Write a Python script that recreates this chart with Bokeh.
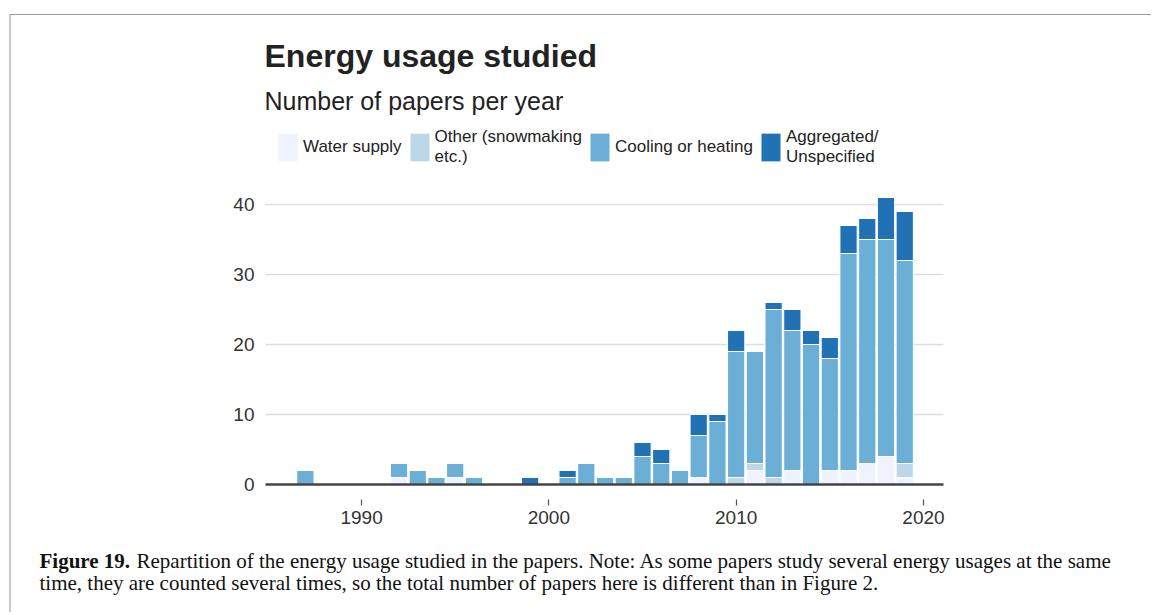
from bokeh.plotting import figure
from bokeh.models import (Range1d, Label, Legend, LegendItem, FixedTicker, ColumnDataSource,
                          LinearAxis, Grid)
from bokeh.embed import file_html
from bokeh.resources import INLINE

# ---- data ----
years = [1987, 1992, 1993, 1994, 1995, 1996, 1999, 2001, 2002, 2003, 2004, 2005, 2006,
         2007, 2008, 2009, 2010, 2011, 2012, 2013, 2014, 2015, 2016, 2017, 2018, 2019]
water_supply = [0, 1, 0, 0, 1, 0, 0, 0, 0, 0, 0, 0, 0, 0, 1, 0, 0, 2, 0, 2, 0, 2, 2, 3, 4, 1]
other = [0, 0, 0, 0, 0, 0, 0, 0, 0, 0, 0, 0, 0, 0, 0, 0, 1, 1, 1, 0, 0, 0, 0, 0, 0, 2]
cooling_heating = [2, 2, 2, 1, 2, 1, 0, 1, 3, 1, 1, 4, 3, 2, 6, 9, 18, 16, 24, 20, 20, 16, 31, 32, 31, 29]
aggregated = [0, 0, 0, 0, 0, 0, 1, 1, 0, 0, 0, 2, 2, 0, 3, 1, 3, 0, 1, 3, 2, 3, 4, 3, 6, 7]

series_keys = ["water", "other", "cooling", "agg"]
series_labels = ["Water supply", "Other (snowmaking\netc.)", "Cooling or heating", "Aggregated/\nUnspecified"]
series_colors = ["#eff3ff", "#bdd7e7", "#6baed6", "#2171b5"]
x_ticks = [1990, 2000, 2010, 2020]
y_ticks = [0, 10, 20, 30, 40]

title_text = "Energy usage studied"
subtitle_text = "Number of papers per year"
caption_bold = "Figure 19."
caption_line1 = ("Repartition of the energy usage studied in the papers. Note: As some papers study "
                 "several energy usages at the same")
caption_line2 = ("time, they are counted several times, so the total number of papers here is "
                 "different than in Figure 2.")

source = ColumnDataSource(dict(year=years, water=water_supply, other=other,
                               cooling=cooling_heating, agg=aggregated))

FONT = "Liberation Sans"
SERIF = "Liberation Serif"

# ---- layout constants (pixels) ----
W, H = 1142, 598              # canvas size
PLOT_L, PLOT_W = 254, 678     # chart area left offset / width inside canvas
PLOT_B, PLOT_H = 129, 294     # chart area bottom offset / height (0..42)
X_LO, X_HI = 1984.87, 2021.07
Y_LO, Y_HI = 0, 42
px_x = PLOT_W / (X_HI - X_LO)
px_y = PLOT_H / (Y_HI - Y_LO)

p = figure(width=W, height=H,
           x_range=Range1d(X_LO - PLOT_L / px_x, X_LO + (W - PLOT_L) / px_x),
           y_range=Range1d(Y_LO - PLOT_B / px_y, Y_LO + (H - PLOT_B) / px_y),
           output_backend="svg", toolbar_location=None,
           min_border=0, x_axis_location=None, y_axis_location=None)
p.margin = (14, 0, 0, 9)
p.styles = {"border-top": "1px solid #9a9a9a", "border-left": "2px solid #cccccc"}
p.outline_line_color = None
p.background_fill_color = "white"
p.border_fill_color = "white"

renderers = p.vbar_stack(series_keys, x="year", width=0.92, source=source,
                         color=series_colors, line_color="white", line_width=1)

# grid lines limited to the chart area
p.xgrid.visible = False
p.ygrid.visible = False
if "cross_bounds" in Grid.properties():
    g = Grid(dimension=1, ticker=FixedTicker(ticks=y_ticks[1:]), bounds=(10, 40),
             cross_bounds=(X_LO, X_HI), grid_line_color="#dddddd", grid_line_width=1.5)
    p.add_layout(g)
else:
    p.segment(x0=[X_LO] * (len(y_ticks) - 1), x1=[X_HI] * (len(y_ticks) - 1),
              y0=y_ticks[1:], y1=y_ticks[1:], line_color="#dddddd", line_width=1.5,
              level="underlay")

# x baseline (axis line only)
x_line = LinearAxis(fixed_location=0, bounds=(X_LO, X_HI), ticker=FixedTicker(ticks=[]),
                    axis_line_color="#444444", axis_line_width=2.5,
                    major_tick_line_color=None, minor_tick_line_color=None)
p.add_layout(x_line, "below")

# x ticks and labels, slightly below the baseline
x_ticks_axis = LinearAxis(fixed_location=-15 / px_y, bounds=(X_LO, X_HI),
                          ticker=FixedTicker(ticks=x_ticks),
                          axis_line_color=None, major_tick_line_color="#555555",
                          major_tick_line_width=1.2, major_tick_in=0, major_tick_out=6,
                          minor_tick_line_color=None, major_label_standoff=5,
                          major_label_text_font=FONT, major_label_text_font_size="19px",
                          major_label_text_color="#333333")
p.add_layout(x_ticks_axis, "below")

y_axis = LinearAxis(fixed_location=X_LO, bounds=(0, 40), ticker=FixedTicker(ticks=y_ticks),
                    axis_line_color=None, major_tick_line_color=None,
                    minor_tick_line_color=None, major_tick_in=0, major_tick_out=0,
                    major_label_standoff=11, major_label_text_font=FONT,
                    major_label_text_font_size="19px", major_label_text_color="#333333")
p.add_layout(y_axis, "left")

# legend
items = [LegendItem(label=lab, renderers=[r]) for lab, r in zip(series_labels, renderers)]
legend = Legend(items=items, orientation="horizontal", location=(264, 446),
                border_line_color=None, background_fill_alpha=0,
                padding=0, margin=0, spacing=5, label_standoff=3,
                glyph_width=25, glyph_height=36,
                label_text_font=FONT, label_text_font_size="17px",
                label_text_line_height=0.85, label_text_color="#222222")
p.add_layout(legend)

# titles
p.add_layout(Label(x=253, y=558, x_units="screen", y_units="screen", text=title_text,
                   text_font=FONT, text_font_size="32px", text_font_style="bold",
                   text_color="#222222", text_baseline="alphabetic"))
p.add_layout(Label(x=253, y=513, x_units="screen", y_units="screen", text=subtitle_text,
                   text_font=FONT, text_font_size="25px",
                   text_color="#222222", text_baseline="alphabetic"))

# caption
p.add_layout(Label(x=28, y=53, x_units="screen", y_units="screen", text=caption_bold,
                   text_font=SERIF, text_font_size="21px", text_font_style="bold",
                   text_color="#111111", text_baseline="alphabetic"))
p.add_layout(Label(x=125, y=53, x_units="screen", y_units="screen", text=caption_line1,
                   text_font=SERIF, text_font_size="21px",
                   text_color="#111111", text_baseline="alphabetic"))
p.add_layout(Label(x=28, y=31, x_units="screen", y_units="screen", text=caption_line2,
                   text_font=SERIF, text_font_size="21px",
                   text_color="#111111", text_baseline="alphabetic"))

open("out.html", "w").write(file_html(p, INLINE))
